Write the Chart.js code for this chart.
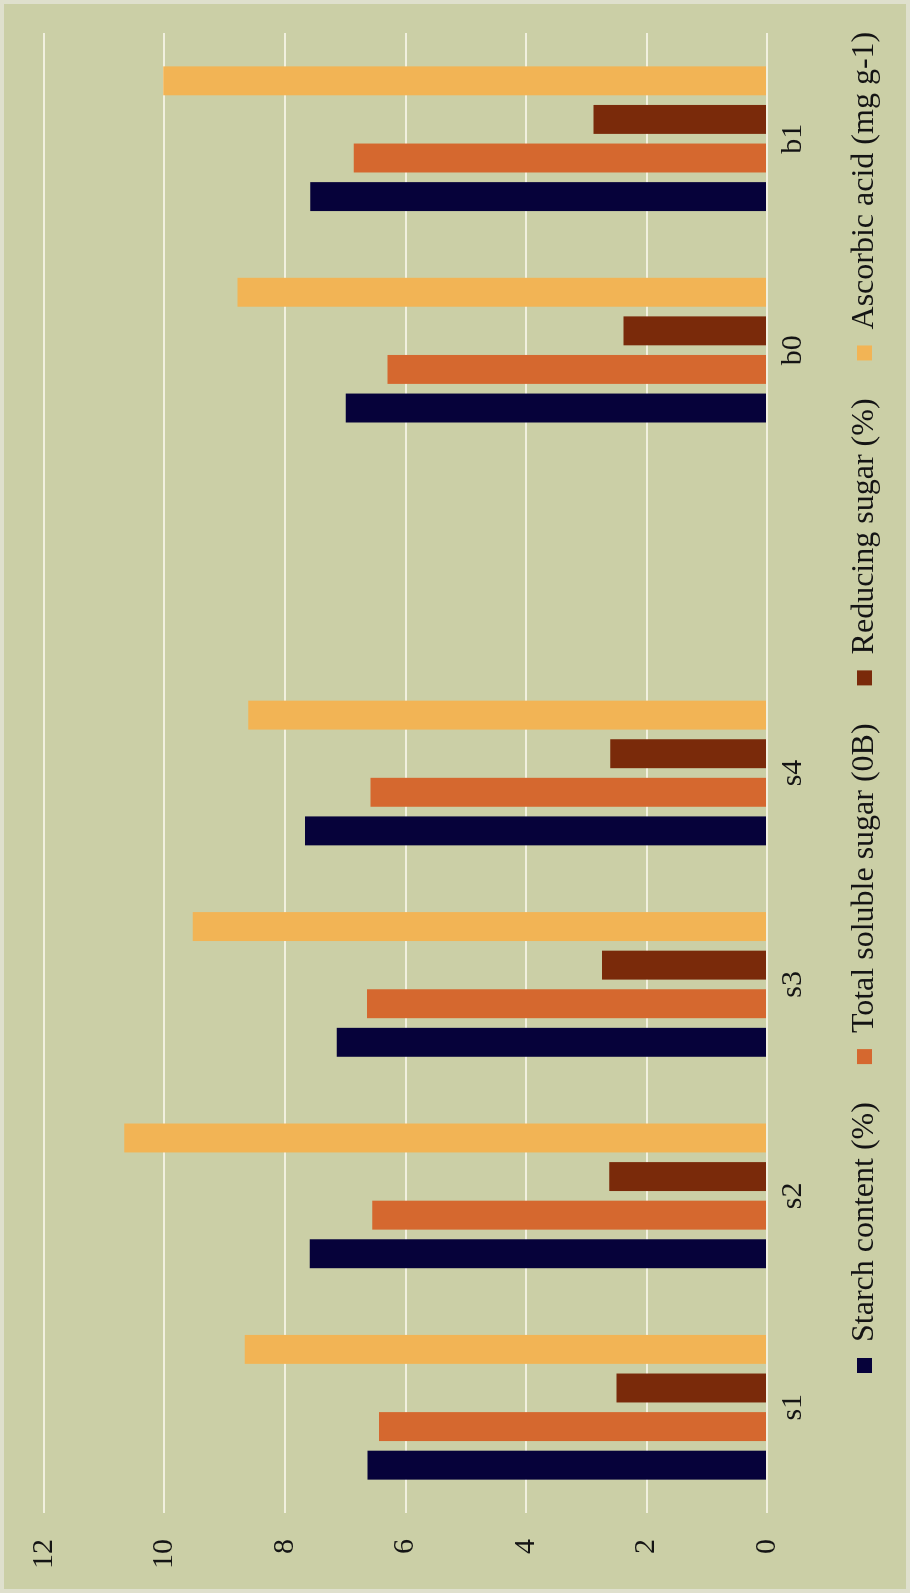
<!DOCTYPE html>
<html>
<head>
<meta charset="utf-8">
<script src="https://cdn.jsdelivr.net/npm/chart.js@4.4.1/dist/chart.umd.min.js"></script>
<style>
  html, body { margin: 0; padding: 0; width: 910px; height: 1593px; overflow: hidden; background: #cbcfa6; }
  /* the chart is laid out landscape and turned a quarter turn counter-clockwise */
  #stage {
    position: absolute; left: 0; top: 0;
    width: 1593px; height: 910px;
    transform-origin: 0 0;
    transform: translate(0, 1593px) rotate(-90deg);
    background: #cbcfa6;
  }
  #frame {
    position: absolute; left: 0; top: 0; width: 910px; height: 1593px;
    box-sizing: border-box; border: 4px solid #dfe0cd; pointer-events: none;
  }
</style>
</head>
<body>
<div id="stage"><canvas id="chart" width="1593" height="910"></canvas></div>
<div id="frame"></div>
<script>
// treatments (the blank slot separates the s- and b- groups)
const categories = ['s1', 's2', 's3', 's4', '', 'b0', 'b1'];

const starchContent   = [6.63, 7.59, 7.14, 7.67, null, 6.99, 7.58];
const totalSoluble    = [6.44, 6.55, 6.64, 6.58, null, 6.30, 6.86];
const reducingSugar   = [2.50, 2.62, 2.74, 2.60, null, 2.38, 2.88];
const ascorbicAcid    = [8.67, 10.67, 9.53, 8.61, null, 8.79, 10.02];

const seriesNames = ['Starch content (%)', 'Total soluble sugar (0B)', 'Reducing sugar (%)', 'Ascorbic acid (mg g-1)'];
const seriesColors = ['#06023a', '#d5682f', '#7a2a0a', '#f2b455'];

const valueTicks = [0, 2, 4, 6, 8, 10, 12];

const FONT = "'Liberation Serif', 'Times New Roman', serif";
const TEXT = '#141414';

// plot box inside the landscape canvas
const PLOT_LEFT = 80, PLOT_RIGHT_PAD = 33, PLOT_TOP = 35, PLOT_BOTTOM = 767;
const LEGEND_X = 220, LEGEND_BOX_TOP = 857;

const legendPlacement = {
  id: 'legendPlacement',
  afterLayout(chart) {
    const lg = chart.legend;
    if (!lg) return;
    const pad = lg.options.labels.padding;
    const fs = lg.options.labels.font.size;
    const w = lg.width, h = lg.height;
    lg.left = LEGEND_X - pad;
    lg.right = lg.left + w;
    lg.top = LEGEND_BOX_TOP - (fs - 15) / 2 - pad;
    lg.bottom = lg.top + h;
  }
};

const datasets = [starchContent, totalSoluble, reducingSugar, ascorbicAcid].map((vals, i) => ({
  label: seriesNames[i],
  data: vals,
  backgroundColor: seriesColors[i],
  borderWidth: 0,
  barPercentage: 0.75,
  categoryPercentage: 0.73
}));

new Chart(document.getElementById('chart'), {
  type: 'bar',
  data: { labels: categories, datasets },
  plugins: [legendPlacement],
  options: {
    responsive: false,
    animation: false,
    devicePixelRatio: 1,
    layout: { padding: { left: 0, right: PLOT_RIGHT_PAD, top: PLOT_TOP, bottom: 0 } },
    plugins: {
      tooltip: { enabled: false },
      legend: {
        position: 'bottom',
        align: 'start',
        labels: {
          boxWidth: 15, boxHeight: 15, padding: 38,
          color: TEXT,
          font: { family: FONT, size: 32 }
        }
      }
    },
    scales: {
      x: {
        grid: { display: false, drawTicks: false },
        border: { display: false },
        ticks: { color: TEXT, font: { family: FONT, size: 30 }, padding: 8, maxRotation: 0, autoSkip: false },
        afterFit(s) { s.height = 910 - PLOT_BOTTOM - (s.chart.legend ? s.chart.legend.height : 0); }
      },
      y: {
        min: 0, max: 12,
        afterBuildTicks(s) { s.ticks = valueTicks.map(v => ({ value: v })); },
        grid: { color: '#f1f0df', lineWidth: 2, drawTicks: false },
        border: { display: false },
        ticks: { color: TEXT, font: { family: FONT, size: 30 }, padding: 26 },
        afterFit(s) { s.width = PLOT_LEFT; }
      }
    }
  }
});
</script>
</body>
</html>
